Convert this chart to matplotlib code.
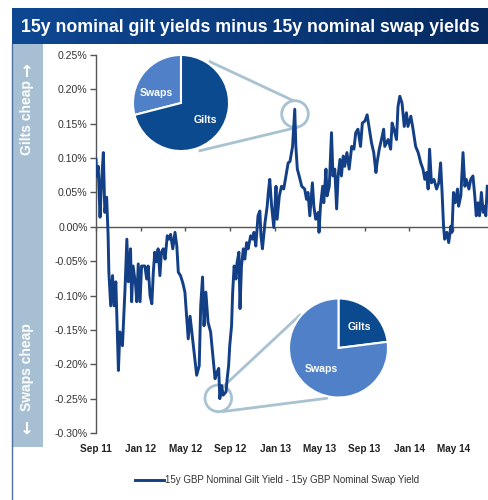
import matplotlib
matplotlib.use("Agg")
import matplotlib.pyplot as plt
import matplotlib.transforms as mtransforms
from matplotlib.patches import Circle, Rectangle
from matplotlib.colors import LinearSegmentedColormap
from matplotlib.ticker import FuncFormatter
import numpy as np
import pandas as pd

plt.rcParams['font.family'] = ['Liberation Sans', 'DejaVu Sans']

# ---------------- data ----------------
start_date = "2011-09-01"
day_offset = [0, 2, 6, 11, 15, 20, 24, 29, 33, 35, 40, 45, 49, 54, 61, 65, 72, 79, 84, 88,
              94, 97, 101, 108, 111, 115, 120, 124, 133, 138, 142, 147, 152, 156, 160, 165,
              169, 174, 178, 183, 188, 194, 199, 203, 209, 215, 220, 224, 230, 236, 242, 247,
              251, 256, 265, 274, 281, 285, 290, 294, 299, 305, 312, 317, 324, 330, 334, 337,
              342, 346, 354, 357, 361, 364, 369, 372, 376, 381, 384, 389, 392, 396, 401, 405,
              410, 414, 421, 426, 430, 435, 441, 446, 449, 453, 460, 466, 469, 473, 478, 484,
              490, 493, 499, 505, 511, 517, 523, 528, 535, 541, 544, 548, 553, 560, 568, 573,
              577, 582, 589, 593, 598, 605, 607, 611, 617, 620, 626, 629, 635, 641, 645, 650,
              655, 659, 664, 668, 673, 677, 683, 689, 696, 702, 707, 713, 720, 725, 732, 738,
              743, 750, 756, 762, 765, 771, 777, 783, 786, 795, 802, 806, 811, 818, 822, 827,
              833, 839, 845, 849, 857, 863, 870, 877, 884, 890, 895, 900, 904, 908, 913, 920,
              927, 933, 938, 942, 946, 949, 955, 960, 966, 969, 973, 978, 984, 987, 993, 999,
              1004, 1008, 1015, 1020, 1026, 1031, 1035, 1040, 1044, 1049, 1054, 1058, 1061, 1065]
spread = [0.098, 0.074, 0.088, 0.014, 0.065, 0.108, 0.021, 0.043, -0.013, -0.066, -0.115, -0.071,
          -0.115, -0.080, -0.209, -0.153, -0.173, -0.090, -0.018, -0.080, -0.032, -0.109, -0.057,
          -0.086, -0.109, -0.054, -0.109, -0.057, -0.057, -0.076, -0.057, -0.100, -0.112, -0.066,
          -0.037, -0.051, -0.032, -0.071, -0.037, -0.032, -0.047, -0.013, -0.018, -0.011, -0.032,
          -0.008, -0.028, -0.066, -0.071, -0.081, -0.095, -0.134, -0.163, -0.130, -0.173, -0.216,
          -0.202, -0.115, -0.073, -0.144, -0.095, -0.139, -0.153, -0.182, -0.221, -0.211, -0.206,
          -0.250, -0.231, -0.245, -0.240, -0.221, -0.202, -0.173, -0.144, -0.095, -0.057, -0.076,
          -0.052, -0.037, -0.119, -0.057, -0.032, -0.047, -0.023, -0.032, -0.013, -0.018, -0.008,
          -0.028, 0.016, 0.023, -0.013, -0.032, 0.006, 0.030, 0.050, 0.069, 0.030, -0.001, 0.059,
          0.011, 0.045, 0.059, 0.055, 0.074, 0.093, 0.095, 0.117, 0.171, 0.117, 0.084, 0.074,
          0.059, 0.055, 0.040, 0.050, 0.016, 0.064, 0.030, 0.011, 0.021, -0.008, 0.030, 0.059,
          0.035, 0.084, 0.045, 0.059, 0.137, 0.074, 0.084, 0.026, 0.074, 0.098, 0.074, 0.103,
          0.088, 0.108, 0.084, 0.117, 0.113, 0.137, 0.142, 0.117, 0.151, 0.154, 0.163, 0.146,
          0.122, 0.108, 0.079, 0.093, 0.113, 0.127, 0.142, 0.117, 0.127, 0.113, 0.151, 0.142,
          0.127, 0.175, 0.190, 0.180, 0.146, 0.166, 0.146, 0.161, 0.142, 0.117, 0.108, 0.093,
          0.084, 0.069, 0.079, 0.055, 0.113, 0.064, 0.069, 0.055, 0.064, 0.093, 0.050, 0.001,
          -0.018, -0.008, -0.023, 0.001, -0.008, 0.050, 0.035, 0.055, 0.030, 0.045, 0.108, 0.059,
          0.069, 0.055, 0.069, 0.074, 0.045, 0.016, 0.035, 0.016, 0.050, 0.021, 0.030, 0.016,
          0.059]
tick_dates = ["2011-09-01", "2012-01-01", "2012-05-01", "2012-09-01", "2013-01-01",
              "2013-05-01", "2013-09-01", "2014-01-01", "2014-05-01"]
tick_labels = ["Sep 11", "Jan 12", "May 12", "Sep 12", "Jan 13", "May 13", "Sep 13",
               "Jan 14", "May 14"]
y_ticks = [0.25, 0.20, 0.15, 0.10, 0.05, 0.00, -0.05, -0.10, -0.15, -0.20, -0.25, -0.30]
pie_top_labels = ["Swaps", "Gilts"]
pie_top_values = [29, 71]
pie_bot_labels = ["Gilts", "Swaps"]
pie_bot_values = [23, 77]
series_label = "15y GBP Nominal Gilt Yield - 15y GBP Nominal Swap Yield"
title = "15y nominal gilt yields minus 15y nominal swap yields"
side_top = "Gilts cheap"
side_bottom = "Swaps cheap"

# ---------------- figure ----------------
W, H = 489, 500
fig = plt.figure(figsize=(W / 100, H / 100), dpi=100)
fig.patch.set_facecolor("white")

def box(x0, y0, x1, y1):
    """pixel box (top-left origin) -> figure fraction rect"""
    return [x0 / W, 1 - y1 / H, (x1 - x0) / W, (y1 - y0) / H]

# pixel transform (top-left origin) for decorations
pix = mtransforms.Affine2D().scale(1, -1).translate(0, H)

LINE = "#123f86"
GILT = "#0b4a8e"
SWAP = "#5081c8"
CALLOUT = "#a8c2d2"

# banner
ax_b = fig.add_axes(box(12, 8, 489, 44))
grad = np.linspace(0, 1, 256).reshape(1, -1)
cmap = LinearSegmentedColormap.from_list("b", ["#0e4893", "#0a3a7c", "#062a60"])
ax_b.imshow(grad, aspect="auto", cmap=cmap, extent=[0, 1, 0, 1])
ax_b.set_axis_off()
ax_b.text(0.5, 0.47, title, color="white", fontsize=12.8, fontweight="bold",
          ha="center", va="center", transform=ax_b.transAxes)

# sidebar
fig.patches.append(Rectangle((12, 44), 31, 403, transform=pix, facecolor="#a6bfd2",
                             edgecolor="none", figure=fig))
fig.lines.append(plt.Line2D([12, 12], [44, 500], transform=pix, color="#4d6f9f", lw=1.0,
                            figure=fig))
fig.text(27.5 / W, 1 - 118 / H, side_top, rotation=90, color="white",
         fontsize=10, fontweight="bold", ha="center", va="center")
fig.text(27.5 / W, 1 - 70 / H, "\u2192", rotation=90, color="white",
         fontsize=12, fontweight="bold", ha="center", va="center", family="DejaVu Sans")
fig.text(27.5 / W, 1 - 367 / H, side_bottom, rotation=90, color="white",
         fontsize=10, fontweight="bold", ha="center", va="center")
fig.text(27.5 / W, 1 - 427 / H, "\u2190", rotation=90, color="white",
         fontsize=12, fontweight="bold", ha="center", va="center", family="DejaVu Sans")

# main axes
ax = fig.add_axes(box(96, 55, 488, 433))
dates = pd.Timestamp(start_date) + pd.to_timedelta(day_offset, unit="D")
ax.plot(dates, spread, color=LINE, lw=2.1, zorder=3, solid_joinstyle="round",
        label=series_label)
ax.axhline(0, color="#555555", lw=1, zorder=1)
ax.set_ylim(-0.30, 0.25)
ax.set_xlim(pd.Timestamp(start_date), pd.Timestamp(start_date) + pd.Timedelta(days=1067))
ax.set_yticks(y_ticks)
ax.yaxis.set_major_formatter(FuncFormatter(lambda v, p: f"{v:.2f}%"))
ax.tick_params(axis="y", direction="out", length=4, width=1, color="#555555",
               labelsize=7.6, labelcolor="#333333", pad=2)
tick_pos = pd.to_datetime(tick_dates)
ax.set_xticks(tick_pos)
ax.set_xticklabels(tick_labels, fontweight="bold", fontsize=7.2, color="#222222")
ax.tick_params(axis="x", length=0, pad=8)
for s in ["top", "right", "bottom"]:
    ax.spines[s].set_visible(False)
ax.spines["left"].set_color("#555555")
ax.spines["left"].set_linewidth(1)

# tick marks on the zero line
zero_frac = (0 - (-0.30)) / (0.25 - (-0.30))
sec = ax.secondary_xaxis(zero_frac)
sec.set_xticks(tick_pos)
sec.tick_params(axis="x", direction="out", length=3, width=1, color="#555555",
                labelbottom=False, labeltop=False, bottom=True, top=False)
sec.xaxis.set_ticks_position("bottom")
sec.set_xticklabels([])
for s in sec.spines.values():
    s.set_visible(False)

# callouts (decorations, in pixel coords)
for (cx, cy) in [(295, 114), (218.3, 398.3)]:
    ax.add_patch(Circle((cx, cy), 13.3, transform=pix, fill=False, edgecolor=CALLOUT,
                        lw=2.0, clip_on=False, zorder=2))
for (x0, y0, x1, y1) in [(210, 61.7, 293, 100.5), (200, 150.7, 296.7, 127.5),
                         (223.3, 386.5, 300, 315), (223.3, 411.5, 326.7, 398.3)]:
    ax.add_line(plt.Line2D([x0, x1], [y0, y1], transform=pix, color=CALLOUT, lw=2.0,
                           clip_on=False, zorder=2))

# pies
def make_pie(rect, values, labels, colors, counterclock, label_pos):
    pa = fig.add_axes(rect)
    pa.pie(values, colors=colors, startangle=90, counterclock=counterclock,
           wedgeprops=dict(edgecolor="white", linewidth=1.5))
    pa.set_xlim(-1.02, 1.02)
    pa.set_ylim(-1.02, 1.02)
    pa.set_aspect("equal")
    pa.set_axis_off()
    for lab, (lx, ly) in zip(labels, label_pos):
        pa.text(lx, ly, lab, color="white", fontsize=7.6, fontweight="bold",
                ha="center", va="center")
    return pa

make_pie(box(132, 54, 230, 152), pie_top_values, pie_top_labels, [SWAP, GILT], True,
         [(-0.51, 0.21), (0.5, -0.35)])
make_pie(box(288, 297, 389, 399), pie_bot_values, pie_bot_labels, [GILT, SWAP], False,
         [(0.43, 0.43), (-0.34, -0.42)])

# legend
fig.legend(loc="center", bbox_to_anchor=(277 / W, 1 - 480 / H), frameon=False,
           fontsize=7.0, handlelength=3.0, handletextpad=0.1, labelcolor="#333333")

fig.savefig("out.png", dpi=100, facecolor="white")
